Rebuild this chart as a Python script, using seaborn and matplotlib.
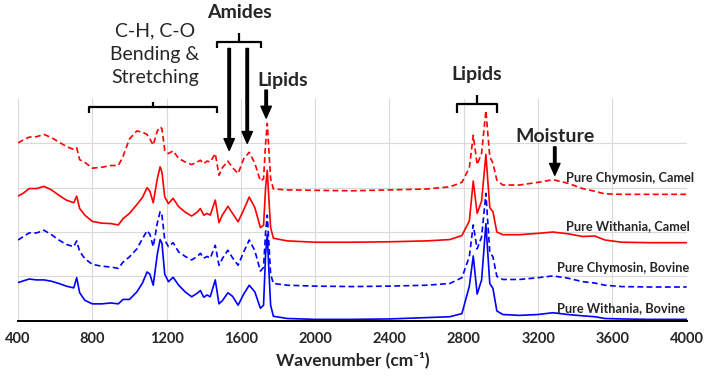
import matplotlib
matplotlib.use('Agg')
import matplotlib.pyplot as plt
import numpy as np
import pandas as pd
import seaborn as sns

# wavenumber sample points (cm-1) shared by all four spectra
wavenumber = [400, 430, 460, 500, 540, 580, 620, 660, 700, 716, 732, 760, 800, 850, 900,
              940, 965, 1000, 1040, 1070, 1095, 1110, 1128, 1150, 1165, 1175, 1190, 1210,
              1235, 1265, 1300, 1335, 1365, 1382, 1400, 1418, 1435, 1462, 1482, 1500, 1530,
              1555, 1585, 1615, 1645, 1675, 1705, 1722, 1733, 1742, 1750, 1760, 1775, 1850,
              2000, 2200, 2400, 2600, 2725, 2790, 2830, 2851, 2872, 2896, 2919, 2940, 2957,
              2978, 3010, 3100, 3200, 3280, 3360, 3440, 3505, 3560, 3650, 3800, 4000]

chymosin_camel = [4.01, 4.08, 4.14, 4.15, 4.20, 4.13, 4.03, 3.93, 3.86, 3.90, 3.63, 3.57, 3.44, 3.46, 3.50,
                  3.50, 3.70, 4.10, 4.28, 4.25, 4.20, 4.10, 3.96, 4.28, 4.37, 4.33, 3.84, 3.77,
                  3.83, 3.66, 3.58, 3.52, 3.58, 3.62, 3.54, 3.60, 3.58, 3.77, 3.28, 3.45, 3.60,
                  3.45, 3.32, 3.65, 3.80, 3.55, 3.15, 3.20, 4.00, 4.45, 3.90, 3.20, 2.97, 2.95,
                  2.94, 2.93, 2.95, 2.97, 3.02, 3.12, 3.45, 4.18, 3.52, 3.78, 4.74, 3.70, 3.55,
                  3.17, 3.06, 3.06, 3.12, 3.18, 3.10, 2.98, 2.92, 2.86, 2.85, 2.85, 2.85]

withania_camel = [2.81, 2.88, 2.98, 2.98, 3.03, 2.95, 2.83, 2.72, 2.66, 2.81, 2.53, 2.38, 2.24, 2.20, 2.19,
                  2.16, 2.30, 2.42, 2.62, 2.78, 3.00, 2.92, 2.66, 3.20, 3.47, 3.35, 2.79, 2.64,
                  2.76, 2.57, 2.45, 2.36, 2.45, 2.53, 2.38, 2.42, 2.38, 2.72, 2.21, 2.38, 2.58,
                  2.42, 2.23, 2.50, 2.79, 2.55, 2.10, 2.15, 3.00, 3.39, 2.80, 2.10, 1.86, 1.80,
                  1.77, 1.77, 1.78, 1.80, 1.83, 1.92, 2.25, 3.15, 2.42, 2.70, 3.75, 2.55, 2.46,
                  2.00, 1.94, 1.94, 1.97, 2.00, 1.96, 1.90, 1.91, 1.82, 1.77, 1.76, 1.76]

chymosin_bovine = [1.82, 1.90, 1.98, 1.98, 2.04, 1.94, 1.82, 1.72, 1.67, 1.80, 1.56, 1.40, 1.27, 1.23, 1.21,
                   1.18, 1.32, 1.44, 1.62, 1.85, 2.03, 1.95, 1.67, 2.20, 2.46, 2.38, 1.82, 1.67,
                   1.76, 1.55, 1.45, 1.37, 1.45, 1.52, 1.41, 1.45, 1.41, 1.70, 1.25, 1.40, 1.59,
                   1.42, 1.25, 1.55, 1.82, 1.58, 1.12, 1.20, 2.00, 2.38, 1.80, 1.05, 0.84, 0.80,
                   0.78, 0.77, 0.78, 0.80, 0.84, 0.97, 1.45, 2.16, 1.62, 1.89, 2.87, 1.55, 1.44,
                   1.00, 0.93, 0.93, 0.97, 1.01, 0.96, 0.88, 0.85, 0.80, 0.77, 0.76, 0.76]

withania_bovine = [0.86, 0.90, 0.94, 0.92, 0.92, 0.89, 0.84, 0.78, 0.74, 0.97, 0.63, 0.46, 0.38, 0.38, 0.40,
                   0.38, 0.48, 0.48, 0.65, 0.85, 1.10, 1.05, 0.80, 1.50, 1.83, 1.75, 1.05, 0.88,
                   0.98, 0.80, 0.65, 0.54, 0.62, 0.68, 0.53, 0.58, 0.54, 0.92, 0.38, 0.45, 0.63,
                   0.55, 0.35, 0.60, 0.80, 0.65, 0.28, 0.35, 1.50, 1.95, 1.20, 0.35, 0.10, 0.05,
                   0.03, 0.03, 0.04, 0.07, 0.09, 0.16, 0.78, 1.46, 0.60, 0.92, 2.19, 0.84, 0.73,
                   0.22, 0.14, 0.12, 0.14, 0.18, 0.14, 0.11, 0.09, 0.05, 0.04, 0.03, 0.03]

series_names = ['Pure Chymosin, Camel', 'Pure Withania, Camel',
                'Pure Chymosin, Bovine', 'Pure Withania, Bovine']
series_values = [chymosin_camel, withania_camel, chymosin_bovine, withania_bovine]

df = pd.concat([pd.DataFrame({'wn': wavenumber, 'val': v, 'series': n})
                for n, v in zip(series_names, series_values)], ignore_index=True)

sns.set_style('white')
plt.rcParams['font.family'] = ['Lato', 'DejaVu Sans']

fig = plt.figure(figsize=(7.09, 3.79), dpi=100)
ax = fig.add_axes([0.0254, 0.1538, 0.9431, 0.585])

palette = {'Pure Chymosin, Camel': '#ff0000', 'Pure Withania, Camel': '#ff0000',
           'Pure Chymosin, Bovine': '#0000ff', 'Pure Withania, Bovine': '#0000ff'}
dashes = {'Pure Chymosin, Camel': (3.5, 2), 'Pure Withania, Camel': '',
          'Pure Chymosin, Bovine': (3.5, 2), 'Pure Withania, Bovine': ''}
sns.lineplot(data=df, x='wn', y='val', hue='series', style='series', palette=palette,
             dashes=dashes, linewidth=1.2, legend=False, sort=False, ax=ax, zorder=3)

ax.set_xlim(400, 4000)
ax.set_ylim(0, 5)
ax.set_xticks(np.arange(400, 4001, 400))
ax.set_yticks([1, 2, 3, 4])
ax.set_yticklabels([])
ax.grid(True, color='#d9d9d9', linewidth=0.8)
ax.tick_params(length=0, labelsize=10.5, pad=8)
for lab in ax.get_xticklabels():
    lab.set_fontweight('bold')
for s in ['left', 'right', 'top']:
    ax.spines[s].set_visible(False)
ax.spines['bottom'].set_color('black')
ax.spines['bottom'].set_linewidth(1.4)
ax.spines['bottom'].set_zorder(4)
ax.set_ylabel('')
ax.set_xlabel('Wavenumber (cm\u207b\u00b9)', fontsize=12.5, fontweight='bold', labelpad=4)

# series labels
label_pos = [(3352, 3.22), (3352, 2.13), (3300, 1.18), (3300, 0.29)]
for name, (lx, ly) in zip(series_names, label_pos):
    ax.text(lx, ly, name, fontsize=9.2, fontweight='bold', ha='left', va='center', zorder=5)

arrow_kw = dict(facecolor='black', edgecolor='black', width=1.8, headwidth=7.5, headlength=8.5)
bkw = dict(color='black', linewidth=1.6, clip_on=False, solid_capstyle='butt')


def bracket(x0, x1, y, drop, rise):
    xm = (x0 + x1) / 2
    ax.plot([x0, x0, x1, x1], [y - drop, y, y, y - drop], **bkw)
    ax.plot([xm, xm], [y, y + rise], **bkw)


# C-H, C-O bending & stretching
bracket(782, 1471, 4.81, 0.13, 0.12)
ax.text(1137, 6.0, 'C-H, C-O\nBending &\nStretching', fontsize=14, ha='center', va='center',
        linespacing=1.45)

# Amides
bracket(1469, 1708, 6.28, 0.14, 0.2)
ax.text(1595, 6.95, 'Amides', fontsize=14, fontweight='bold', ha='center', va='center')
ax.annotate('', xy=(1537, 3.84), xytext=(1537, 6.14), arrowprops=arrow_kw, annotation_clip=False)
ax.annotate('', xy=(1634, 4.0), xytext=(1634, 6.14), arrowprops=arrow_kw, annotation_clip=False)

# Lipids (ester carbonyl)
ax.text(1826, 5.42, 'Lipids', fontsize=14, fontweight='bold', ha='center', va='center')
ax.annotate('', xy=(1736, 4.57), xytext=(1736, 5.2), arrowprops=arrow_kw, annotation_clip=False)

# Lipids (CH stretching)
bracket(2764, 2980, 4.88, 0.2, 0.2)
ax.text(2869, 5.56, 'Lipids', fontsize=14, fontweight='bold', ha='center', va='center')

# Moisture
ax.text(3290, 4.16, 'Moisture', fontsize=14, fontweight='bold', ha='center', va='center')
ax.annotate('', xy=(3290, 3.28), xytext=(3290, 3.92), arrowprops=arrow_kw, annotation_clip=False)

fig.savefig('out.png', dpi=100)
